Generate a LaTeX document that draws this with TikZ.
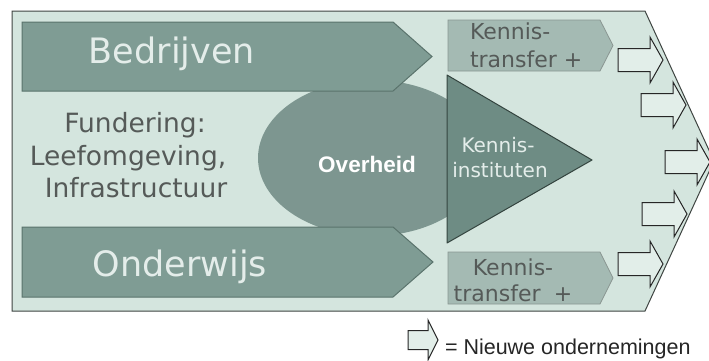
\documentclass[tikz,border=0pt]{standalone}
\usepackage{fontspec}
\setmainfont{DejaVu Sans}
\newfontfamily\arialfont{Liberation Sans}
\definecolor{platefill}{HTML}{D4E5DE}
\definecolor{plateline}{HTML}{3F4542}
\definecolor{sectorfill}{HTML}{7F9C94}
\definecolor{sectorline}{HTML}{5A736C}
\definecolor{govfill}{HTML}{7D9690}
\definecolor{instfill}{HTML}{6E8C84}
\definecolor{instline}{HTML}{34443F}
\definecolor{transferfill}{HTML}{A4BAB3}
\definecolor{transferline}{HTML}{8A9692}
\definecolor{venturefill}{HTML}{E2EEE9}
\definecolor{darktext}{HTML}{555A58}
\definecolor{lighttext}{HTML}{E4EDEA}
\begin{document}
\begin{tikzpicture}[x=1pt,y=-1pt,
  every node/.style={inner sep=0pt,outer sep=0pt},
  plate/.style={fill=platefill,draw=plateline,line width=1pt},
  sector/.style={fill=sectorfill,draw=sectorline,line width=1pt},
  institute/.style={fill=instfill,draw=instline,line width=1pt,line join=round},
  transfer/.style={fill=transferfill,draw=transferline,line width=0.8pt},
  venture/.style={fill=venturefill,draw=black!85,line width=1pt},
  sectortext/.style={text=lighttext,font=\fontsize{35}{40}\selectfont},
  basetext/.style={text=darktext,font=\fontsize{26.5}{32}\selectfont},
  transfertext/.style={text=darktext,font=\fontsize{22}{26}\selectfont},
  insttext/.style={text=lighttext,font=\fontsize{20}{24}\selectfont},
  govtext/.style={text=white,font=\arialfont\bfseries\fontsize{22.5}{26}\selectfont},
  legendtext/.style={text=black!85,font=\arialfont\fontsize{21.5}{26}\selectfont},
  pics/venturearrow/.style={code={
    \draw[venture] (-22,-11.5) -- (10,-11.5) -- (10,-23) -- (23,0)
      -- (10,23) -- (10,11.5) -- (-22,11.5) -- cycle;}}
]
\useasboundingbox (0,0) rectangle (709,360);
\clip (0,0) rectangle (709,360);
\fill[white] (0,0) rectangle (709,360);

% outer plate
\draw[plate] (12,11) -- (645,11) -- (714,161) -- (645,311) -- (12,311) -- cycle;

% government disc, partly covered by the sector arrows and the triangle
\fill[govfill] (372,158) ellipse [x radius=114, y radius=78];

% sector arrows
\draw[sector] (22,22) -- (393,22) -- (432,56.5) -- (393,91) -- (22,91) -- cycle;
\draw[sector] (22,227) -- (393,227) -- (433,262) -- (393,297) -- (22,297) -- cycle;

% knowledge institutes
\draw[institute] (447,75) -- (592,160) -- (447,243) -- cycle;

% knowledge transfer tags
\draw[transfer] (448,20) -- (600,20) -- (613,45.5) -- (600,71) -- (448,71) -- cycle;
\draw[transfer] (448,252) -- (600,252) -- (613,278) -- (600,304) -- (448,304) -- cycle;

% new ventures
\pic at (640,60)  {venturearrow};
\pic at (663,105) {venturearrow};
\pic at (687,162) {venturearrow};
\pic at (664,214) {venturearrow};
\pic at (640,264) {venturearrow};

% legend
\draw[venture] (408,330.5) -- (428,330.5) -- (428,320) -- (438,340) -- (428,360)
  -- (428,349.5) -- (408,349.5) -- cycle;
\node[legendtext,anchor=base west] (legend) at (445,354) {= Nieuwe ondernemingen};

% labels
\node[sectortext,anchor=base] (bedrijven) at (172,63) {Bedrijven};
\node[sectortext,anchor=base] (onderwijs) at (180,276) {Onderwijs};
\node[basetext,anchor=base] (fund1) at (135,132) {Fundering:};
\node[basetext,anchor=base] (fund2) at (128,165) {Leefomgeving,};
\node[basetext,anchor=base] (fund3) at (136,197) {Infrastructuur};
\node[govtext,anchor=base] (overheid) at (367,172) {Overheid};
\node[insttext,anchor=base] (inst1) at (498,152) {Kennis-};
\node[insttext,anchor=base] (inst2) at (500,177) {instituten};
\node[transfertext,anchor=base west] (kt1a) at (470,39) {Kennis-};
\node[transfertext,anchor=base west] (kt1b) at (470,67) {transfer +};
\node[transfertext,anchor=base] (kt2a) at (513,275) {Kennis-};
\node[transfertext,anchor=base] (kt2b) at (513,301) {transfer\hspace{0.6em}+};
\end{tikzpicture}
\end{document}
